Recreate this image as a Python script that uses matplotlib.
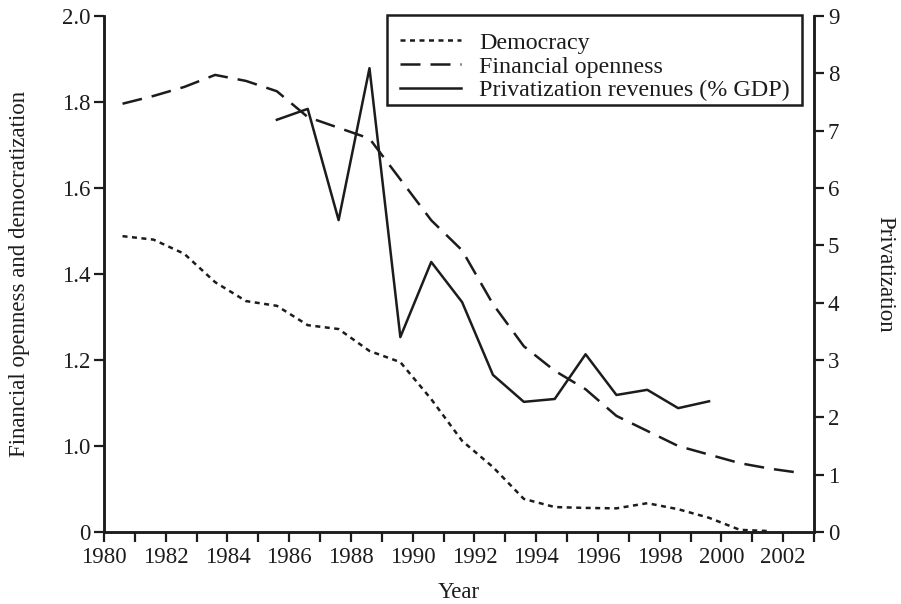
import numpy as np
import matplotlib
matplotlib.use("Agg")
import matplotlib.pyplot as plt
from matplotlib.patches import Rectangle

plt.rcParams['font.family'] = ['Liberation Serif', 'DejaVu Serif']
plt.rcParams['font.size'] = 16.5

# --- data ---
dem_years = np.arange(1980, 2002)
democracy = [1.488, 1.480, 1.447, 1.381, 1.337, 1.326, 1.281, 1.272, 1.221, 1.195,
             1.109, 1.012, 0.951, 0.877, 0.858, 0.856, 0.855, 0.867, 0.853, 0.833,
             0.805, 0.802]

fin_years = np.arange(1980, 2003)
fin_open = [1.796, 1.814, 1.835, 1.863, 1.849, 1.825, 1.765, 1.740, 1.715, 1.620,
            1.525, 1.455, 1.330, 1.232, 1.175, 1.132, 1.070, 1.035, 1.000, 0.980,
            0.960, 0.947, 0.937]

priv_years = np.arange(1985, 2000)
privatization = [7.19, 7.38, 5.44, 8.09, 3.40, 4.71, 4.01, 2.74, 2.27, 2.32,
                 3.10, 2.39, 2.48, 2.16, 2.28]

left_ticks = [0.8, 1.0, 1.2, 1.4, 1.6, 1.8, 2.0]
left_labels = ["0", "1.0", "1.2", "1.4", "1.6", "1.8", "2.0"]
year_offset = 0.6  # values sit mid-year

ink = "#1c1c1c"

# --- plot ---
fig = plt.figure(figsize=(9.01, 6.04), dpi=100)
ax = fig.add_axes([104/901, 1-532/604, (814-104)/901, (532-16)/604])
ax2 = ax.twinx()

lw = 1.8
l1, = ax.plot(dem_years + year_offset, democracy, color=ink, lw=lw,
              dashes=(2, 1.8), label="Democracy")
l2, = ax.plot(fin_years + year_offset, fin_open, color=ink, lw=lw,
              dashes=(8, 4), label="Financial openness")
l3, = ax2.plot(priv_years + year_offset, privatization, color=ink, lw=lw,
               label="Privatization revenues (% GDP)")

ax.set_xlim(1980, 2003)
ax.set_ylim(0.8, 2.0)
ax2.set_ylim(0, 9)

ax.set_xticks(np.arange(1980, 2003, 2))
ax.set_xticks(np.arange(1980, 2004, 1), minor=True)
ax.set_yticks(left_ticks)
ax.set_yticklabels(left_labels)
ax2.set_yticks(range(0, 10))

for a in (ax, ax2):
    a.spines["top"].set_visible(False)
    for s in a.spines.values():
        s.set_linewidth(1.8)
        s.set_color(ink)
    a.tick_params(which="both", direction="out", length=7, width=1.6,
                  color=ink, labelsize=16.5, labelcolor=ink)
ax.tick_params(axis="x", pad=4)
ax.tick_params(axis="y", pad=3)
ax2.tick_params(axis="y", pad=3)

ax.set_xlabel("Year", labelpad=10, color=ink)
ax.set_ylabel("Financial openness and democratization", labelpad=23, color=ink)
ax2.set_ylabel("Privatization", rotation=270, labelpad=40, color=ink)

# legend: frameless entries plus a plain rectangular box
leg = ax2.legend(handles=[l1, l2, l3], loc="upper left",
                 bbox_to_anchor=(400/901, 1-32/604), bbox_transform=fig.transFigure,
                 borderaxespad=0, borderpad=0, frameon=False,
                 handlelength=2.55, handletextpad=0.75, labelspacing=0.08,
                 fontsize=17.3)
for t in leg.get_texts():
    t.set_color(ink)
box = Rectangle((387/901, 1-105/604), (802-387)/901, (105-15)/604,
                transform=fig.transFigure, fill=False, edgecolor=ink, lw=1.8)
fig.patches.append(box)

fig.savefig("out.png", dpi=100)
